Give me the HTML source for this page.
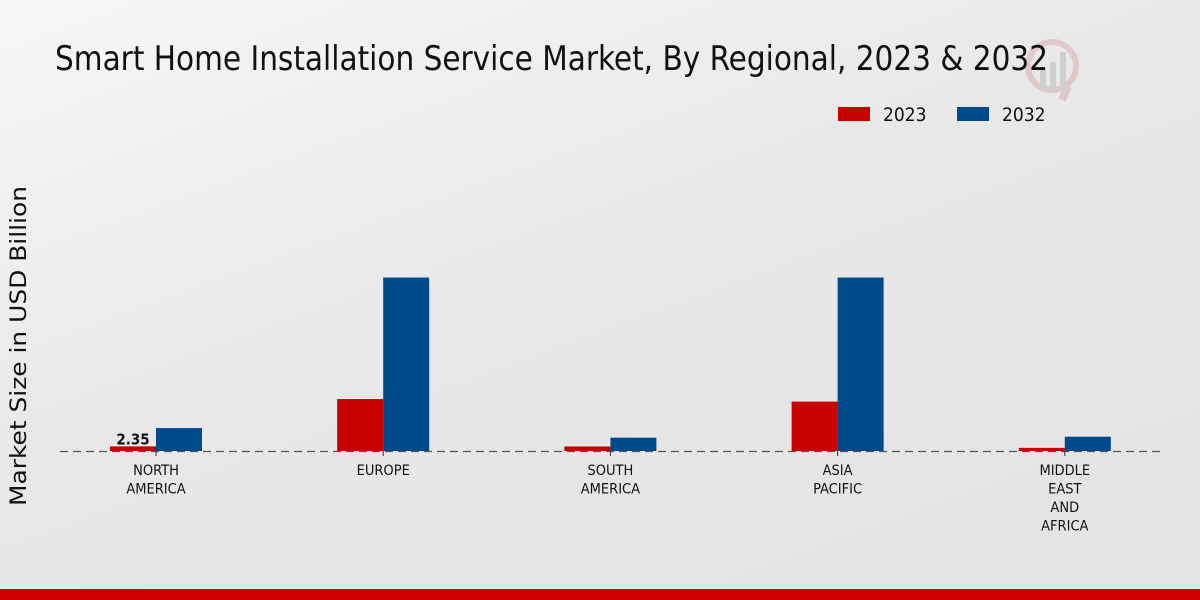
<!DOCTYPE html>
<html><head><meta charset="utf-8"><style>
body{margin:0;width:1200px;height:600px;overflow:hidden;font-family:"DejaVu Sans Condensed","DejaVu Sans",sans-serif}
#bg{position:absolute;left:0;top:0;width:1200px;height:600px;background:linear-gradient(160deg,#f7f7f7 0%,#e8e8e8 45%,#e3e3e3 100%)}
</style></head><body>
<div id="bg"></div>
<svg id="c" width="1200" height="600" style="position:absolute;left:0;top:0">
<g opacity="0.3">
<circle cx="1052" cy="66" r="24" fill="none" stroke="#d08080" stroke-width="6"/>
<line x1="1068" y1="86" x2="1062" y2="100" stroke="#d08080" stroke-width="8"/>
<rect x="1040" y="70" width="6" height="20" fill="#999"/><rect x="1050" y="62" width="6" height="28" fill="#999"/><rect x="1060" y="52" width="6" height="38" fill="#999"/>
</g>
<text x="55" y="70" font-size="34" font-family="DejaVu Sans Condensed, DejaVu Sans, sans-serif" fill="#111" textLength="993" lengthAdjust="spacingAndGlyphs">Smart Home Installation Service Market, By Regional, 2023 &amp; 2032</text>
<g>
<rect x="838" y="107" width="32" height="14" fill="#c80000"/>
<text x="883" y="121" font-size="19" font-family="DejaVu Sans Condensed, DejaVu Sans, sans-serif" fill="#111">2023</text>
<rect x="957" y="107" width="32" height="14" fill="#004a8c"/>
<text x="1002" y="121" font-size="19" font-family="DejaVu Sans Condensed, DejaVu Sans, sans-serif" fill="#111">2032</text>
</g>
<text transform="translate(26,346) rotate(-90)" text-anchor="middle" font-size="22" font-family="DejaVu Sans, sans-serif" fill="#111" textLength="320" lengthAdjust="spacingAndGlyphs">Market Size in USD Billion</text>
<line x1="60" y1="451.5" x2="1160" y2="451.5" stroke="#555" stroke-width="1.2" stroke-dasharray="8,5"/>
<g id="bars"></g>
</svg>
<script>
const categories=[["NORTH","AMERICA"],["EUROPE"],["SOUTH","AMERICA"],["ASIA","PACIFIC"],["MIDDLE","EAST","AND","AFRICA"]];
const values2023=[2.35,26.5,2.3,25.2,1.6];
const values2032=[11.7,88.5,6.8,88.5,7.3];
const valueLabels=["2.35",null,null,null,null];
const baseY=451,pxPerUnit=1.96,x0=156,step=227.2,bw=46;
const xC=i=>x0+i*step;
const yS=v=>baseY-v*pxPerUnit;
const NS="http://www.w3.org/2000/svg";
const g=document.getElementById('bars');
function mk(t,a){const e=document.createElementNS(NS,t);for(const k in a)e.setAttribute(k,a[k]);g.appendChild(e);return e;}
categories.forEach((cat,i)=>{
  const c=xC(i);
  const r=mk('rect',{x:c-bw,y:yS(values2023[i]),width:bw,height:values2023[i]*pxPerUnit,fill:'#c80000'});
  
  
  const b=mk('rect',{x:c,y:yS(values2032[i]),width:bw,height:values2032[i]*pxPerUnit,fill:'#004a8c'});
  
  
  const tk=mk('line',{x1:c,y1:baseY,x2:c,y2:baseY+5,stroke:'#333'});
  
  
  cat.forEach((ln,j)=>{
    const t=mk('text',{x:c,y:475+j*18.5,'text-anchor':'middle','font-size':14.5,'font-family':'DejaVu Sans Condensed, DejaVu Sans, sans-serif',fill:'#111'});
    t.textContent=ln;
    
    
  });
  if(valueLabels[i]){
    const t=mk('text',{x:c-23,y:yS(values2023[i])-2,'text-anchor':'middle','font-size':15,'font-weight':'bold','font-family':'DejaVu Sans Condensed, DejaVu Sans, sans-serif',fill:'#111'});
    t.textContent=valueLabels[i];
    
    
  }
});
</script>
<div style="position:absolute;left:0;top:589px;width:1200px;height:11px;background:#cc0000"></div>
</body></html>
